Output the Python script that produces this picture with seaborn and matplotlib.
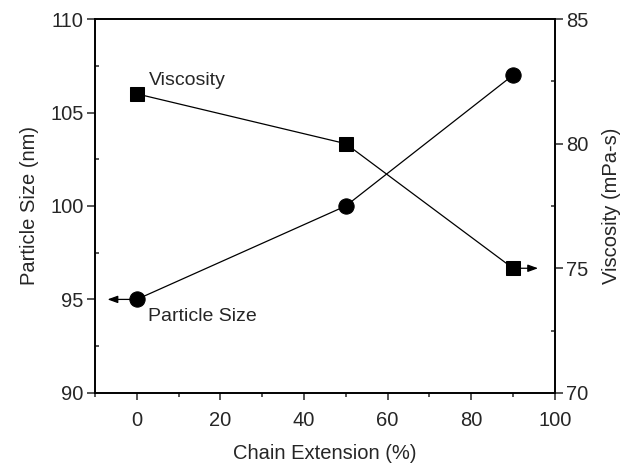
import matplotlib
matplotlib.use("Agg")
import matplotlib.pyplot as plt
import seaborn as sns
from matplotlib.ticker import MultipleLocator

chain_ext = [0, 50, 90]
particle_size = [95, 100, 107]
viscosity = [82, 80, 75]

sns.set_style("ticks")
plt.rcParams['font.family'] = ['Liberation Sans', 'DejaVu Sans']

fig = plt.figure(figsize=(6.29, 4.66), dpi=100)
ax = fig.add_axes([0.151, 0.157, 0.731, 0.802])
ax2 = ax.twinx()

sns.lineplot(x=chain_ext, y=particle_size, ax=ax, color='black', marker='o',
             markersize=11, markeredgecolor='black', linewidth=0.9)
sns.lineplot(x=chain_ext, y=viscosity, ax=ax2, color='black', marker='s',
             markersize=9.5, markeredgecolor='black', linewidth=0.9)

ax.set_xlim(-10, 100)
ax.set_ylim(90, 110)
ax2.set_ylim(70, 85)
ax.xaxis.set_major_locator(MultipleLocator(20))
ax.xaxis.set_minor_locator(MultipleLocator(10))
ax.yaxis.set_major_locator(MultipleLocator(5))
ax.yaxis.set_minor_locator(MultipleLocator(2.5))
ax2.yaxis.set_major_locator(MultipleLocator(5))
ax2.yaxis.set_minor_locator(MultipleLocator(2.5))

for a in (ax, ax2):
    for s in a.spines.values():
        s.set_visible(True)
        s.set_linewidth(1.2)
        s.set_color('black')
ax.tick_params(axis='x', which='major', direction='out', length=5, width=1.1,
               labelsize=14.5, pad=8)
ax.tick_params(axis='x', which='minor', direction='out', length=3, width=1.1)
ax.tick_params(axis='y', which='major', direction='out', length=6, width=1.1,
               labelsize=14.5, pad=2)
ax.tick_params(axis='y', which='minor', direction='in', length=3, width=1.1)
ax2.tick_params(axis='y', which='major', direction='out', length=6, width=1.1,
                labelsize=14.5, pad=2)
ax2.tick_params(axis='y', which='minor', direction='in', length=3, width=1.1)

ax.set_xlabel("Chain Extension (%)", fontsize=14.5, labelpad=10)
ax.set_ylabel("Particle Size (nm)", fontsize=14.5, labelpad=8)
ax2.set_ylabel("Viscosity (mPa-s)", fontsize=14.5, labelpad=10)

ax2.text(2.8, 82.55, "Viscosity", fontsize=14, va='center', ha='left')
ax.text(2.8, 94.1, "Particle Size", fontsize=14, va='center', ha='left')

# arrows pointing to each series' axis
arrow = dict(arrowstyle='-|>,head_length=0.55,head_width=0.2', color='black',
             lw=0.9, mutation_scale=11, shrinkA=0, shrinkB=0)
ax.annotate("", xy=(-7, particle_size[0]), xytext=(-1.5, particle_size[0]), arrowprops=arrow)
ax2.annotate("", xy=(96, viscosity[-1]), xytext=(91.5, viscosity[-1]), arrowprops=arrow)

fig.savefig("out.png", dpi=100)
